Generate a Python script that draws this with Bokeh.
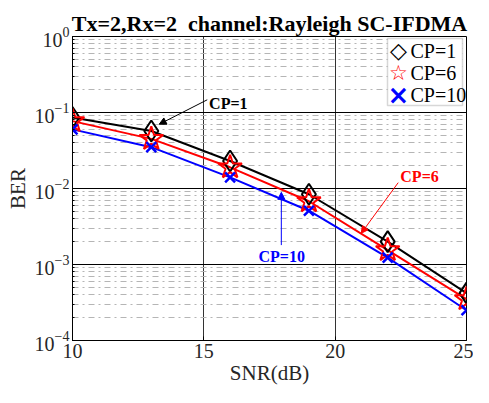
from bokeh.plotting import figure
from bokeh.models import (FixedTicker, BoxAnnotation, Arrow, NormalHead, Label, Range1d)
from bokeh.embed import file_html
from bokeh.resources import INLINE

snr = [10, 13, 16, 19, 22, 25]
ber_cp1 = [0.086, 0.057, 0.023, 0.0084, 0.0020, 0.00042]
ber_cp6 = [0.077, 0.045, 0.019, 0.0068, 0.00155, 0.00035]
ber_cp10 = [0.060, 0.035, 0.014, 0.0051, 0.00123, 0.00025]
x_ticks = [10, 15, 20, 25]
series_names = ["CP=1", "CP=6", "CP=10"]
series_colors = ["black", "red", "blue"]
legend_symbols = ["\u25c7", "\u2606", "\u00d7"]
legend_symbol_sizes = ["22px", "21px", "26px"]

SERIF = "Liberation Serif"
FRAME_W, FRAME_H = 394, 306

p = figure(width=473, height=387, y_axis_type="log",
           x_range=Range1d(10, 25), y_range=Range1d(1e-4, 1),
           output_backend="svg", toolbar_location=None,
           min_border_left=72, min_border_right=7, min_border_top=36, min_border_bottom=45)

p.title.text = "Tx=2,Rx=2\u00a0 channel:Rayleigh SC-IFDMA"
p.title.align = "center"
p.title.text_font = SERIF
p.title.text_font_size = "22px"
p.title.text_font_style = "bold"
p.title.text_color = "black"
p.title.offset = 0
p.title.standoff = 2

p.outline_line_color = "black"
p.outline_line_width = 1
p.outline_line_alpha = 1

p.xgrid.grid_line_color = "black"
p.xgrid.grid_line_width = 1
p.xgrid.grid_line_alpha = 0.8
p.ygrid.grid_line_color = "black"
p.ygrid.grid_line_alpha = 1
p.ygrid.minor_grid_line_color = "#b5b5b5"
p.ygrid.minor_grid_line_dash = "dashdot"
p.ygrid.minor_grid_line_width = 1

p.xaxis.ticker = FixedTicker(ticks=x_ticks)
p.xgrid.ticker = FixedTicker(ticks=x_ticks)
p.yaxis.ticker.num_minor_ticks = 10

for ax in (p.xaxis[0], p.yaxis[0]):
    ax.major_label_text_font = SERIF
    ax.major_label_text_font_size = "20px"
    ax.major_label_text_color = "#262626"
    ax.axis_label_text_font = SERIF
    ax.axis_label_text_font_size = "21px"
    ax.axis_label_text_font_style = "normal"
    ax.axis_label_text_color = "#262626"
    ax.major_tick_in = 4
    ax.major_tick_out = 0
    ax.minor_tick_in = 2
    ax.minor_tick_out = 0
    ax.axis_line_color = "black"

p.xaxis.axis_label = "SNR(dB)"
p.yaxis.axis_label = "BER"
p.xaxis.axis_label_standoff = 0
p.yaxis.axis_label_standoff = 2
p.xaxis.major_label_standoff = 3
p.yaxis.major_label_standoff = 3

p.line(snr, ber_cp1, line_color="black", line_width=2)
p.line(snr, ber_cp6, line_color="red", line_width=2)
p.line(snr, ber_cp10, line_color="blue", line_width=2)

p.scatter(snr, ber_cp1, marker="diamond", size=21, fill_color=None,
          line_color="black", line_width=2)
p.scatter(snr, ber_cp6, marker="star", size=25, fill_color=None,
          line_color="red", line_width=2)
p.scatter(snr, ber_cp10, marker="x", size=14, line_color="blue", line_width=2.5)

# legend box (screen units, relative to the frame)
ROW = 22
leg_right = FRAME_W - 4
leg_left = leg_right - 75
leg_top = FRAME_H - 4
leg_bottom = leg_top - 67
p.add_layout(BoxAnnotation(left=leg_left, right=leg_right, top=leg_top, bottom=leg_bottom,
                           left_units="screen", right_units="screen",
                           top_units="screen", bottom_units="screen",
                           fill_color="white", fill_alpha=1,
                           line_color="#7a7a7a", line_width=1.5, level="overlay"))
for i, name in enumerate(series_names):
    yc = leg_top - 1 - ROW * (i + 0.5)
    p.add_layout(Label(x=leg_left + 11, y=yc, x_units="screen", y_units="screen",
                       text=legend_symbols[i], text_font="DejaVu Sans",
                       text_font_size=legend_symbol_sizes[i], text_font_style="bold",
                       text_color=series_colors[i], text_baseline="middle",
                       text_align="center", level="overlay"))
    p.add_layout(Label(x=leg_left + 23, y=yc, x_units="screen", y_units="screen",
                       text=name, text_font=SERIF, text_font_size="20px",
                       text_color="black", text_baseline="middle",
                       text_align="left", level="overlay"))

def add_note(text, color, tx, ty, x0, y0, x1, y1):
    p.add_layout(Arrow(end=NormalHead(size=7, fill_color=color, line_color=color),
                       x_start=x0, y_start=y0, x_end=x1, y_end=y1,
                       line_color=color, line_width=1))
    p.add_layout(Label(x=tx, y=ty, text=text, text_color=color, text_font=SERIF,
                       text_font_size="16px", text_font_style="bold",
                       text_baseline="middle", text_align="left"))

add_note("CP=1", "black", 15.2, 0.130, 15.13, 0.147, 13.3, 0.070)
add_note("CP=6", "red", 22.48, 0.01426, 22.40, 0.01194, 20.99, 0.00257)
add_note("CP=10", "blue", 17.08, 0.00127, 17.95, 0.0018, 17.95, 0.0089)

open("out.html", "w").write(file_html(p, INLINE))
